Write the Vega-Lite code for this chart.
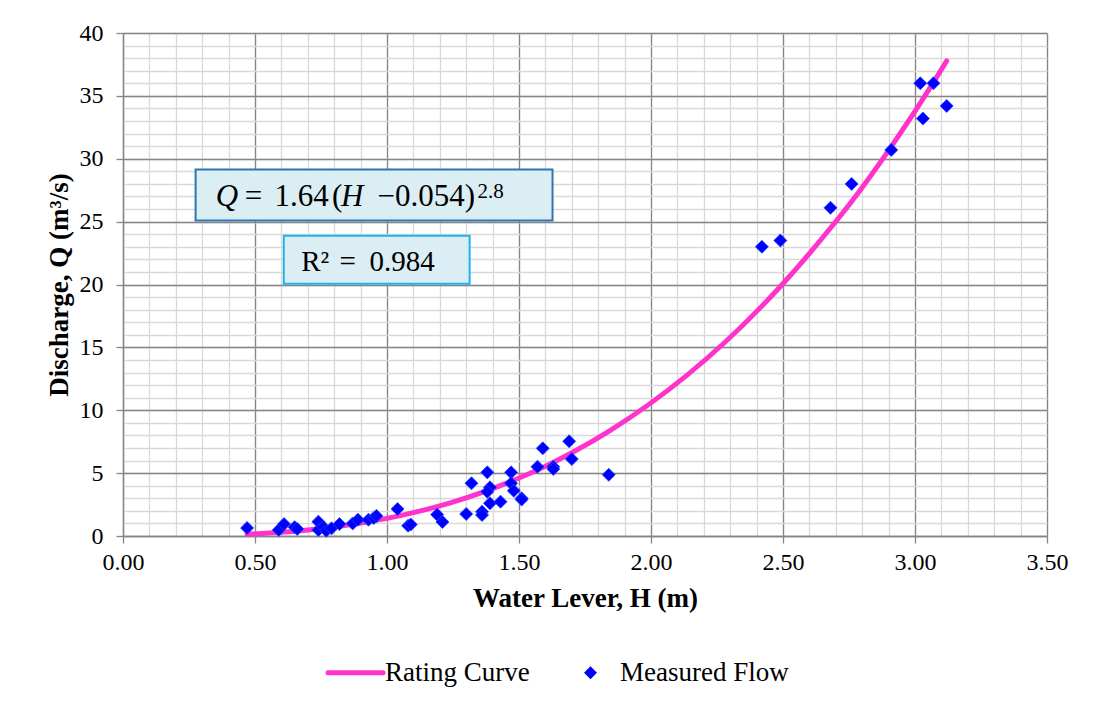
{
  "$schema": "https://vega.github.io/schema/vega-lite/v6.json",
  "width": 924,
  "height": 503,
  "autosize": {"type": "none"},
  "padding": {"left": 123, "top": 33, "right": 52, "bottom": 173},
  "background": "white",
  "config": {
    "font": "Liberation Serif",
    "view": {"stroke": null},
    "legend": {"symbolSize": 3025}
  },
  "datasets": {
    "measured": [
      {"H": 0.47, "Q": 0.64}, {"H": 0.59, "Q": 0.48}, {"H": 0.61, "Q": 0.95}, {"H": 0.65, "Q": 0.70},
      {"H": 0.66, "Q": 0.56}, {"H": 0.74, "Q": 1.14}, {"H": 0.74, "Q": 0.48}, {"H": 0.76, "Q": 0.69},
      {"H": 0.77, "Q": 0.42}, {"H": 0.79, "Q": 0.61}, {"H": 0.82, "Q": 0.95}, {"H": 0.87, "Q": 1.00},
      {"H": 0.89, "Q": 1.30}, {"H": 0.93, "Q": 1.30}, {"H": 0.95, "Q": 1.43}, {"H": 0.96, "Q": 1.60},
      {"H": 1.04, "Q": 2.15}, {"H": 1.08, "Q": 0.82}, {"H": 1.09, "Q": 0.92}, {"H": 1.19, "Q": 1.70},
      {"H": 1.21, "Q": 1.12}, {"H": 1.30, "Q": 1.75}, {"H": 1.32, "Q": 4.19}, {"H": 1.36, "Q": 1.93},
      {"H": 1.36, "Q": 1.67}, {"H": 1.38, "Q": 5.06}, {"H": 1.39, "Q": 3.87}, {"H": 1.38, "Q": 3.52},
      {"H": 1.39, "Q": 2.60}, {"H": 1.43, "Q": 2.73}, {"H": 1.47, "Q": 5.06}, {"H": 1.47, "Q": 4.19},
      {"H": 1.48, "Q": 3.60}, {"H": 1.51, "Q": 3.00}, {"H": 1.51, "Q": 2.90}, {"H": 1.57, "Q": 5.51},
      {"H": 1.59, "Q": 6.97}, {"H": 1.63, "Q": 5.51}, {"H": 1.63, "Q": 5.33}, {"H": 1.69, "Q": 7.53},
      {"H": 1.70, "Q": 6.12}, {"H": 1.84, "Q": 4.87}, {"H": 2.42, "Q": 23.0}, {"H": 2.49, "Q": 23.5},
      {"H": 2.68, "Q": 26.1}, {"H": 2.76, "Q": 28.0}, {"H": 2.91, "Q": 30.7}, {"H": 3.02, "Q": 36.0},
      {"H": 3.07, "Q": 36.0}, {"H": 3.03, "Q": 33.2}, {"H": 3.12, "Q": 34.2}
    ],
    "curve": [
      {"H": 0.47, "Q": 0.14}, {"H": 0.6, "Q": 0.30}, {"H": 0.7, "Q": 0.48}, {"H": 0.8, "Q": 0.72},
      {"H": 0.9, "Q": 1.03}, {"H": 1.0, "Q": 1.40}, {"H": 1.1, "Q": 1.86}, {"H": 1.2, "Q": 2.40},
      {"H": 1.3, "Q": 3.04}, {"H": 1.4, "Q": 3.77}, {"H": 1.5, "Q": 4.61}, {"H": 1.6, "Q": 5.55},
      {"H": 1.7, "Q": 6.62}, {"H": 1.84, "Q": 8.32}, {"H": 2.42, "Q": 18.28}, {"H": 2.49, "Q": 19.84},
      {"H": 2.68, "Q": 24.49}, {"H": 2.76, "Q": 26.6}, {"H": 2.91, "Q": 30.97}, {"H": 3.02, "Q": 34.42},
      {"H": 3.07, "Q": 36.08}, {"H": 3.12, "Q": 37.78}
    ],
    "boxes": [
      {"kind": "eq", "x1": 0.275, "x2": 1.627, "y1": 25.09, "y2": 29.14},
      {"kind": "r2", "x1": 0.609, "x2": 1.313, "y1": 20.06, "y2": 23.88}
    ],
    "texts": [
      {"H": 0.351, "Q": 26.22, "t": "Q", "part": "italic"},
      {"H": 0.461, "Q": 26.22, "t": "=", "part": "main"},
      {"H": 0.574, "Q": 26.22, "t": "1.64", "part": "main"},
      {"H": 0.792, "Q": 26.22, "t": "(", "part": "main"},
      {"H": 0.826, "Q": 26.22, "t": "H", "part": "italic"},
      {"H": 0.964, "Q": 26.22, "t": "−0.054)", "part": "main"},
      {"H": 1.343, "Q": 26.91, "t": "2.8", "part": "sup"},
      {"H": 0.675, "Q": 21.06, "t": "R²", "part": "r2"},
      {"H": 0.820, "Q": 21.06, "t": "=", "part": "r2"},
      {"H": 0.934, "Q": 21.06, "t": "0.984", "part": "r2"}
    ]
  },
  "resolve": {"axis": {"x": "independent", "y": "independent"}},
  "layer": [
    {
      "data": {"name": "boxes"},
      "mark": {"type": "rect", "fill": "#DAEEF3", "strokeWidth": 2},
      "encoding": {
        "x": {"field": "x1", "type": "quantitative",
          "scale": {"domain": [0, 3.5], "nice": false, "zero": true},
          "axis": {"orient": "top", "values": [0,0.1,0.2,0.3,0.4,0.5,0.6,0.7,0.8,0.9,1,1.1,1.2,1.3,1.4,1.5,1.6,1.7,1.8,1.9,2,2.1,2.2,2.3,2.4,2.5,2.6,2.7,2.8,2.9,3,3.1,3.2,3.3,3.4,3.5],
            "grid": true, "gridColor": "#D9D9D9", "gridWidth": 1.3, "labels": false, "ticks": false, "domain": false, "title": null}},
        "x2": {"field": "x2"},
        "y": {"field": "y1", "type": "quantitative",
          "scale": {"domain": [0, 40], "nice": false, "zero": true},
          "axis": {"orient": "right", "values": [0,1,2,3,4,5,6,7,8,9,10,11,12,13,14,15,16,17,18,19,20,21,22,23,24,25,26,27,28,29,30,31,32,33,34,35,36,37,38,39,40],
            "grid": true, "gridColor": "#D9D9D9", "gridWidth": 1.3, "labels": false, "ticks": false, "domain": false, "title": null}},
        "y2": {"field": "y2"},
        "stroke": {"field": "kind", "type": "nominal", "scale": {"domain": ["eq", "r2"], "range": ["#2E75B6", "#22B0EE"]}, "legend": null}
      }
    },
    {
      "data": {"name": "curve"},
      "mark": {"type": "line", "strokeWidth": 5, "interpolate": "monotone", "strokeCap": "round"},
      "encoding": {
        "x": {"field": "H", "type": "quantitative",
          "axis": {"orient": "bottom", "values": [0, 0.5, 1, 1.5, 2, 2.5, 3, 3.5], "format": ".2f",
            "grid": true, "gridColor": "#868686", "gridWidth": 1.3,
            "domainColor": "#868686", "domainWidth": 1.3, "tickColor": "#868686", "tickWidth": 1.3, "tickSize": 7,
            "labelFont": "Liberation Serif", "labelFontSize": 24, "labelColor": "black", "labelPadding": 7, "labelFlush": false,
            "title": "Water Lever, H (m)", "titleFont": "Liberation Serif", "titleFontSize": 27, "titleFontWeight": "bold", "titleColor": "black", "titlePadding": 11}},
        "y": {"field": "Q", "type": "quantitative",
          "axis": {"orient": "left", "values": [0, 5, 10, 15, 20, 25, 30, 35, 40],
            "grid": true, "gridColor": "#868686", "gridWidth": 1.3,
            "domainColor": "#868686", "domainWidth": 1.3, "tickColor": "#868686", "tickWidth": 1.3, "tickSize": 7,
            "labelFont": "Liberation Serif", "labelFontSize": 24, "labelColor": "black", "labelPadding": 13, "labelFlush": false,
            "title": "Discharge, Q (m³/s)", "titleFont": "Liberation Serif", "titleFontSize": 27, "titleFontWeight": "bold", "titleColor": "black", "titlePadding": 6}},
        "color": {"datum": "Rating Curve", "type": "nominal",
          "scale": {"domain": ["Rating Curve", "Measured Flow"], "range": ["#FF33CC", "#0000FF"]},
          "legend": {"title": null, "orient": "none", "legendX": 219, "legendY": 626, "direction": "horizontal",
            "labelFont": "Liberation Serif", "labelFontSize": 27, "labelColor": "black", "labelOffset": 16, "labelLimit": 400, "columnPadding": 47, "padding": 0,
            "encode": {"symbols": {"update": {
              "shape": {"signal": "datum.value === 'Rating Curve' ? 'stroke' : 'diamond'"},
              "size": {"signal": "datum.value === 'Rating Curve' ? 3025 : 170"},
              "stroke": {"signal": "datum.value === 'Rating Curve' ? '#FF33CC' : 'transparent'"},
              "strokeWidth": {"signal": "datum.value === 'Rating Curve' ? 5 : 0"},
              "fill": {"signal": "datum.value === 'Rating Curve' ? 'transparent' : '#0000FF'"},
              "strokeCap": {"value": "round"},
              "opacity": {"value": 1}
            }}}}}
      }
    },
    {
      "data": {"name": "measured"},
      "mark": {"type": "point", "shape": "diamond", "filled": true, "size": 170, "opacity": 1, "stroke": "#2040FF", "strokeWidth": 0.8},
      "encoding": {
        "x": {"field": "H", "type": "quantitative", "axis": null},
        "y": {"field": "Q", "type": "quantitative", "axis": null},
        "color": {"datum": "Measured Flow", "type": "nominal"}
      }
    },
    {
      "data": {"name": "texts"},
      "transform": [{"filter": "datum.part === 'main'"}],
      "mark": {"type": "text", "align": "left", "baseline": "alphabetic", "font": "Liberation Serif", "fontSize": 31, "color": "black"},
      "encoding": {
        "x": {"field": "H", "type": "quantitative", "axis": null},
        "y": {"field": "Q", "type": "quantitative", "axis": null},
        "text": {"field": "t"}
      }
    },
    {
      "data": {"name": "texts"},
      "transform": [{"filter": "datum.part === 'italic'"}],
      "mark": {"type": "text", "align": "left", "baseline": "alphabetic", "font": "Liberation Serif", "fontStyle": "italic", "fontSize": 31, "color": "black"},
      "encoding": {
        "x": {"field": "H", "type": "quantitative", "axis": null},
        "y": {"field": "Q", "type": "quantitative", "axis": null},
        "text": {"field": "t"}
      }
    },
    {
      "data": {"name": "texts"},
      "transform": [{"filter": "datum.part === 'sup'"}],
      "mark": {"type": "text", "align": "left", "baseline": "alphabetic", "font": "Liberation Serif", "fontSize": 21, "color": "black"},
      "encoding": {
        "x": {"field": "H", "type": "quantitative", "axis": null},
        "y": {"field": "Q", "type": "quantitative", "axis": null},
        "text": {"field": "t"}
      }
    },
    {
      "data": {"name": "texts"},
      "transform": [{"filter": "datum.part === 'r2'"}],
      "mark": {"type": "text", "align": "left", "baseline": "alphabetic", "font": "Liberation Serif", "fontSize": 29, "color": "black"},
      "encoding": {
        "x": {"field": "H", "type": "quantitative", "axis": null},
        "y": {"field": "Q", "type": "quantitative", "axis": null},
        "text": {"field": "t"}
      }
    }
  ]
}
